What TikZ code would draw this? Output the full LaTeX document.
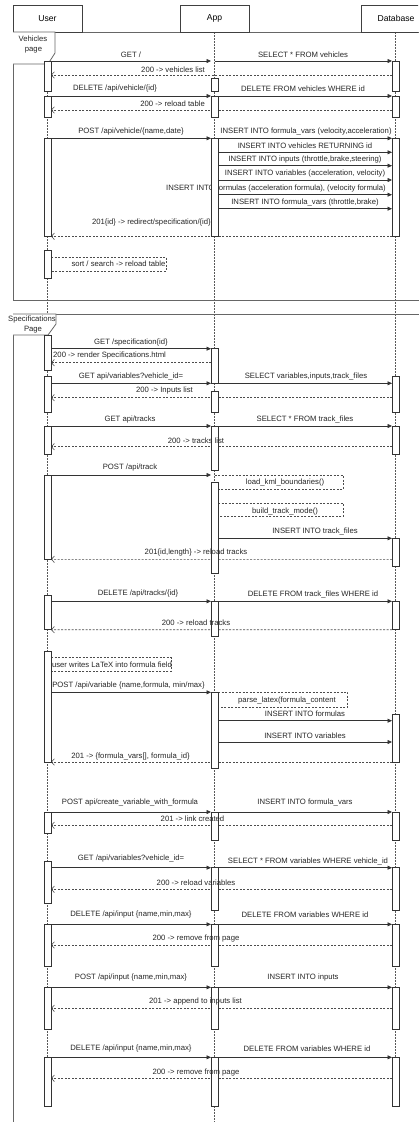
\documentclass[tikz,border=0pt]{standalone}
\usepackage{fontspec}
\setmainfont{Liberation Sans}
\usetikzlibrary{arrows.meta}
\pgfdeclarelayer{bg}
\pgfsetlayers{bg,main}
\tikzset{
  txt/.style={inner sep=0pt, text=black!85, font=\fontsize{7.7}{9}\selectfont},
  hdr/.style={draw=black!75, line width=0.7pt, fill=white, minimum height=27pt, inner sep=0pt, font=\fontsize{8.6}{10}\selectfont},
  life/.style={draw=black!65, line width=0.6pt, dash pattern=on 1.5pt off 1.5pt},
  frm/.style={draw=black!60, line width=0.8pt},
  actbox/.style={draw=black!80, line width=0.7pt, fill=white, minimum width=7pt, inner sep=0pt, outer sep=0pt},
  msg/.style={draw=black!80, line width=0.7pt, -{Triangle[length=4.5pt,width=4pt]}},
  ret/.style={draw=black!70, line width=0.6pt, dash pattern=on 2pt off 1.5pt, -{Straight Barb[length=3pt,width=6.5pt,line width=0.6pt]}},
  selfcall/.style={draw=black!70, line width=0.6pt, dash pattern=on 2pt off 1.5pt}
}
% activation bar: name, x, top, bottom
\newcommand\actbox[4]{\node[actbox, minimum height={(#4-#3)*1pt}] (#1) at (#2,{(#3+#4)/2}) {};}
\begin{document}
\begin{tikzpicture}[x=1pt,y=-1pt]
\useasboundingbox (0,0) rectangle (418,1122);
\clip (0,0) rectangle (418,1122);

% participants
\node[hdr, minimum width=69pt] (user) at (47.5,18.5) {User};
\node[hdr, minimum width=69pt] (app) at (214.5,18.5) {App};
\node[hdr, minimum width=70pt] (db) at (396,18.5) {Database};

% lifelines and frames
\begin{pgfonlayer}{bg}
  \coordinate (uend) at (47.5,1106);
  \coordinate (aend) at (214.5,1122);
  \coordinate (dend) at (395.5,1106);
  \draw[life] (user.south -| uend) -- (uend);
  \draw[life] (app.south -| aend) -- (aend);
  \draw[life] (db.south -| dend) -- (dend);
  \draw[frm] (13,32) rectangle (440,300);
  \draw[frm] (13,314) rectangle (440,1140);
\end{pgfonlayer}

% frame labels
\draw[frm, fill=white] (13,32) -- (55,32) -- (55,53) -- (48,64) -- (13,64);
\node[txt] (f1a) at (33,38.5) {Vehicles};
\node[txt] (f1b) at (33.5,50) {page};
\draw[frm, fill=white] (13,314) -- (56,314) -- (56,324) -- (48,335) -- (13,335);
\node[txt] (f2a) at (32,319.3) {Specifications};
\node[txt] (f2b) at (33,329.7) {Page};

% activation bars: User
\actbox{u1}{47.5}{61}{91}
\actbox{u2}{47.5}{96}{117}
\actbox{u3}{47.5}{138.3}{236.3}
\actbox{u4}{47.5}{250}{278}
\actbox{u5}{47.5}{335}{370}
\actbox{u6}{47.5}{376}{412}
\actbox{u7}{47.5}{426}{454.3}
\actbox{u8}{47.5}{475}{559.3}
\actbox{u9}{47.5}{595}{629.7}
\actbox{u10}{47.5}{651}{762}
\actbox{u11}{47.5}{812}{833}
\actbox{u12}{47.5}{861}{903}
\actbox{u13}{47.5}{924.3}{966}
\actbox{u14}{47.5}{987.3}{1029.3}
\actbox{u15}{47.5}{1057.3}{1106}
% activation bars: App
\actbox{a1}{214.5}{78}{91}
\actbox{a2}{214.5}{96}{117}
\actbox{a3}{214.5}{138.3}{236.3}
\actbox{a4}{214.5}{348.7}{383.3}
\actbox{a5}{214.5}{391}{412}
\actbox{a6}{214.5}{426}{470.3}
\actbox{a7}{214.5}{482.3}{573.3}
\actbox{a8}{214.5}{601.3}{636.3}
\actbox{a9}{214.5}{692.3}{768.7}
\actbox{a10}{214.5}{812}{840.3}
\actbox{a11}{214.5}{867.7}{910}
\actbox{a12}{214.5}{924.3}{966}
\actbox{a13}{214.5}{987.3}{1029.3}
\actbox{a14}{214.5}{1057.3}{1106}
% activation bars: Database
\actbox{d1}{395.5}{61}{91}
\actbox{d2}{395.5}{96}{117}
\actbox{d3}{395.5}{138.3}{236.3}
\actbox{d4}{395.5}{376}{412}
\actbox{d5}{395.5}{426}{454.3}
\actbox{d6}{395.5}{538.3}{566}
\actbox{d7}{395.5}{601.3}{629.7}
\actbox{d8}{395.5}{714}{762}
\actbox{d9}{395.5}{812}{840.3}
\actbox{d10}{395.5}{867.7}{910}
\actbox{d11}{395.5}{924.3}{966}
\actbox{d12}{395.5}{987.3}{1029.3}
\actbox{d13}{395.5}{1057.3}{1106}

% messages
\begin{pgfonlayer}{bg}
  % Vehicles page
  \draw[msg] (u1.north east) -- (a1.west |- 0,61);
  \draw[msg] (a1.center |- 0,61) -- (d1.north west);
  \draw[ret] (d1.west |- 0,75) -- (u1.east |- 0,75);
  \draw[msg] (u2.north east) -- (a2.north west);
  \draw[msg] (a2.north east) -- (d2.north west);
  \draw[ret] (d2.west |- 0,110) -- (u2.east |- 0,110);
  \draw[msg] (u3.north east) -- (a3.north west);
  \draw[msg] (a3.north east) -- (d3.north west);
  \draw[msg] (a3.east |- 0,152.3) -- (d3.west |- 0,152.3);
  \draw[msg] (a3.east |- 0,165.7) -- (d3.west |- 0,165.7);
  \draw[msg] (a3.east |- 0,180) -- (d3.west |- 0,180);
  \draw[msg] (a3.east |- 0,194.7) -- (d3.west |- 0,194.7);
  \draw[msg] (a3.east |- 0,208.7) -- (d3.west |- 0,208.7);
  \node[txt] (t12) at (276,189) {INSERT INTO formulas (acceleration formula), (velocity formula)};
  \draw[ret] (d3.south) -- (u3.south east);
  \draw[selfcall] (u4.east |- 0,257) -- (166,257) -- (166,271) -- (u4.east |- 0,271);
  % Specifications page
  \draw[msg] (u5.east |- 0,348.7) -- (a4.north west);
  \draw[ret] (a4.west |- 0,362.7) -- (u5.east |- 0,362.7);
  \draw[msg] (u6.east |- 0,383.3) -- (a4.south west);
  \draw[msg] (a4.south east) -- (d4.west |- 0,383.3);
  \draw[ret] (d4.west |- 0,397.7) -- (u6.east |- 0,397.7);
  \draw[msg] (u7.north east) -- (a6.north west);
  \draw[msg] (a6.north east) -- (d5.north west);
  \draw[ret] (d5.west |- 0,446.7) -- (u7.east |- 0,446.7);
  \draw[msg] (u8.north east) -- (a7.west |- 0,475);
  \draw[selfcall] (a7.center |- 0,475) -- (343,475) -- (343,489) -- (a7.east |- 0,489);
  \draw[selfcall] (a7.east |- 0,503.3) -- (343,503.3) -- (343,516.7) -- (a7.east |- 0,516.7);
  \draw[msg] (a7.east |- 0,538.3) -- (d6.north west);
  \draw[ret] (d6.west |- 0,559.3) -- (u8.south east);
  \draw[msg] (u9.east |- 0,601.3) -- (a8.north west);
  \draw[msg] (a8.north east) -- (d7.north west);
  \draw[ret] (d7.south west) -- (u9.south east);
  \draw[selfcall] (u10.east |- 0,657.5) -- (171,657.5) -- (171,671.3) -- (u10.east |- 0,671.3);
  \draw[msg] (u10.east |- 0,692.3) -- (a9.north west);
  \draw[selfcall] (a9.north east) -- (347.7,692.3) -- (347.7,707) -- (a9.east |- 0,707);
  \draw[msg] (a9.east |- 0,720.7) -- (d8.west |- 0,720.7);
  \draw[msg] (a9.east |- 0,742) -- (d8.west |- 0,742);
  \draw[ret] (d8.south west) -- (u10.south east);
  \draw[msg] (u11.north east) -- (a10.north west);
  \draw[msg] (a10.north east) -- (d9.north west);
  \draw[ret] (d9.west |- 0,825.3) -- (u11.east |- 0,825.3);
  \draw[msg] (u12.east |- 0,867.7) -- (a11.north west);
  \draw[msg] (a11.north east) -- (d10.north west);
  \draw[ret] (d10.west |- 0,889.3) -- (u12.east |- 0,889.3);
  \draw[msg] (u13.north east) -- (a12.north west);
  \draw[msg] (a12.north east) -- (d11.north west);
  \draw[ret] (d11.west |- 0,945) -- (u13.east |- 0,945);
  \draw[msg] (u14.north east) -- (a13.north west);
  \draw[msg] (a13.north east) -- (d12.north west);
  \draw[ret] (d12.west |- 0,1008.3) -- (u14.east |- 0,1008.3);
  \draw[msg] (u15.north east) -- (a14.north west);
  \draw[msg] (a14.north east) -- (d13.north west);
  \draw[ret] (d13.west |- 0,1078.3) -- (u15.east |- 0,1078.3);
\end{pgfonlayer}

% message texts
\node[txt] (t1) at (131,55) {GET /};
\node[txt] (t2) at (303,55) {SELECT * FROM vehicles};
\node[txt, anchor=east] (t3) at (205,70) {200 -> vehicles list};
\node[txt] (t4) at (115,89) {DELETE /api/vehicle/\{id\}};
\node[txt] (t5) at (303,89) {DELETE FROM vehicles WHERE id};
\node[txt, anchor=east] (t6) at (205,104) {200 -> reload table};
\node[txt] (t7) at (131,132) {POST /api/vehicle/\{name,date\}};
\node[txt] (t8) at (306,132) {INSERT INTO formula\_vars (velocity,acceleration)};
\node[txt] (t9) at (305,145.7) {INSERT INTO vehicles RETURNING id};
\node[txt] (t10) at (305,159.7) {INSERT INTO inputs (throttle,brake,steering)};
\node[txt] (t11) at (305,174) {INSERT INTO variables (acceleration, velocity)};
\node[txt] (t13) at (305,203) {INSERT INTO formula\_vars (throttle,brake)};
\node[txt, anchor=east] (t14) at (211,223) {201\{id\} -> redirect/specification/\{id\}};
\node[txt] (t15) at (118.5,264) {sort / search -> reload table};
\node[txt] (t16) at (131,342.7) {GET /specification\{id\}};
\node[txt, anchor=west] (t17) at (53,356) {200 -> render Specifications.html};
\node[txt] (t18) at (131,377) {GET api/variables?vehicle\_id=};
\node[txt] (t19) at (306,377) {SELECT variables,inputs,track\_files};
\node[txt] (t20) at (164.5,391) {200 -> Inputs list};
\node[txt] (t21) at (130,419.3) {GET api/tracks};
\node[txt] (t22) at (305,419.3) {SELECT * FROM track\_files};
\node[txt] (t23) at (196,441) {200 -> tracks list};
\node[txt] (t24) at (130,467.7) {POST /api/track};
\node[txt] (t25) at (285,482.7) {load\_kml\_boundaries()};
\node[txt] (t26) at (285,511) {build\_track\_mode()};
\node[txt] (t27) at (315,531) {INSERT INTO track\_files};
\node[txt] (t28) at (196,552.7) {201\{id,length\} -> reload tracks};
\node[txt] (t29) at (138,594) {DELETE /api/tracks/\{id\}};
\node[txt] (t30) at (313,594) {DELETE FROM track\_files WHERE id};
\node[txt] (t31) at (196,623) {200 -> reload tracks};
\node[txt] (t32) at (112,664.7) {user writes LaTeX into formula field};
\node[txt] (t33) at (128.5,685.3) {POST /api/variable \{name,formula, min/max\}};
\node[txt] (t34) at (287,700.3) {parse\_latex(formula\_content};
\node[txt] (t35) at (305,714) {INSERT INTO formulas};
\node[txt] (t36) at (305,735.3) {INSERT INTO variables};
\node[txt] (t37) at (130.5,756.3) {201 -> \{formula\_vars[], formula\_id\}};
\node[txt] (t38) at (130,802) {POST api/create\_variable\_with\_formula};
\node[txt] (t39) at (305,802) {INSERT INTO formula\_vars};
\node[txt] (t40) at (192.5,818.7) {201 -> link created};
\node[txt] (t41) at (131,858.3) {GET /api/variables?vehicle\_id=};
\node[txt] (t42) at (308,861.7) {SELECT * FROM variables WHERE vehicle\_id};
\node[txt] (t43) at (196,882.7) {200 -> reload variables};
\node[txt] (t44) at (131,914.3) {DELETE /api/input \{name,min,max\}};
\node[txt] (t45) at (305,914.3) {DELETE FROM variables WHERE id};
\node[txt] (t46) at (196,938.5) {200 -> remove from page};
\node[txt] (t47) at (131,977.7) {POST /api/input \{name,min,max\}};
\node[txt] (t48) at (303,977.7) {INSERT INTO inputs};
\node[txt] (t49) at (195.5,1001.7) {201 -> append to inputs list};
\node[txt] (t50) at (131,1048.3) {DELETE /api/input \{name,min,max\}};
\node[txt] (t51) at (307,1048.3) {DELETE FROM variables WHERE id};
\node[txt] (t52) at (196,1072.3) {200 -> remove from page};
\end{tikzpicture}
\end{document}
